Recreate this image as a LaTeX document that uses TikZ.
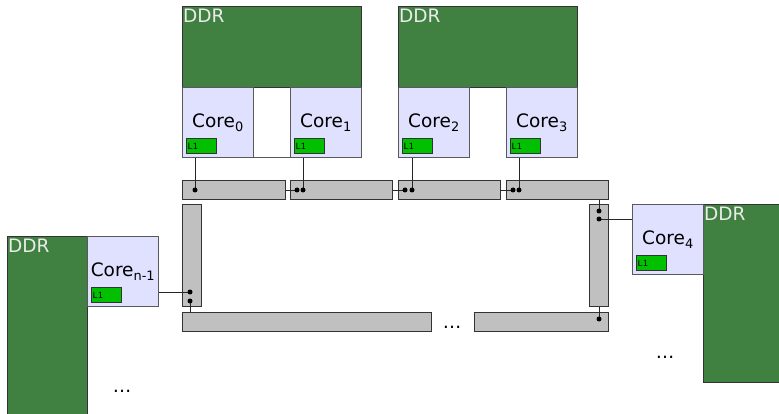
\documentclass[tikz,border=0pt]{standalone}
\usepackage{fontspec}
\setmainfont{DejaVu Sans}
\setmonofont{DejaVu Sans Mono}
\usepackage{tikz}
\usetikzlibrary{arrows,positioning}
\definecolor{ddrgreen}{RGB}{64,128,64}
\definecolor{corefill}{RGB}{224,224,255}
\definecolor{lonegreen}{RGB}{0,192,0}
\definecolor{bargray}{RGB}{192,192,192}
\tikzset{
  ddr/.style={shape=rectangle,draw=black!80,fill=ddrgreen,line width=1pt,inner sep=0pt,anchor=north west},
  ddrtext/.style={anchor=north west,inner xsep=1pt,inner ysep=3pt,text=white!92!black,font=\fontsize{18.5}{18.5}\selectfont},
  core/.style={shape=rectangle,draw=black!65,fill=corefill,line width=1pt,inner sep=0pt,anchor=north west,minimum width=71pt,minimum height=70pt,font=\fontsize{18.5}{18.5}\selectfont},
  lone/.style={shape=rectangle,draw=black!80,fill=lonegreen,line width=1pt,inner sep=0pt,anchor=north west,minimum width=30pt,minimum height=15pt},
  lonetext/.style={anchor=west,inner sep=2pt,font=\fontsize{8.5}{8.5}\ttfamily},
  bar/.style={shape=rectangle,draw=black!80,fill=bargray,line width=1pt,inner sep=0pt,anchor=north west},
  link/.style={line width=0.7pt,black!85},
  dot/.style={circle,fill=black,inner sep=0pt,minimum size=5pt}
}
\begin{document}
\begin{tikzpicture}[x=1pt,y=-1pt]
\useasboundingbox (0,0) rectangle (779,414);

\node[ddr,minimum width=179pt,minimum height=81pt] (ddr1) at (182,6){};
\node[ddr,minimum width=179pt,minimum height=81pt] (ddr2) at (398,6){};
\node[ddr,minimum width=80pt,minimum height=178pt] (ddr3) at (703,204){};
\node[ddr,minimum width=80pt,minimum height=190pt] (ddr4) at (7,236){};
\node[ddrtext] at (ddr1.north west){DDR};
\node[ddrtext] at (ddr2.north west){DDR};
\node[ddrtext] at (ddr3.north west){DDR};
\node[ddrtext] at (ddr4.north west){DDR};

\node[core] (c0) at (182,87){Core\textsubscript{0}};
\node[core] (c1) at (290,87){Core\textsubscript{1}};
\node[core] (c2) at (398,87){Core\textsubscript{2}};
\node[core] (c3) at (506,87){Core\textsubscript{3}};
\node[core] (c4) at (632,204){Core\textsubscript{4}};
\node[core] (cn) at (87,236){Core\textsubscript{n-1}};
\draw[line width=1pt,black!65] (c0.south east) -- (c1.south west);

\foreach \c in {c0,c1,c2,c3,c4,cn}{
  \node[lone] (\c l) at ([shift={(3.5,51)}]\c.north west){};
  \node[lonetext] at (\c l.west){L1};
}

\node[bar,minimum width=103pt,minimum height=19pt] (b1) at (182,180){};
\node[bar,minimum width=102pt,minimum height=19pt] (b2) at (290,180){};
\node[bar,minimum width=102pt,minimum height=19pt] (b3) at (398,180){};
\node[bar,minimum width=102pt,minimum height=19pt] (b4) at (506,180){};
\node[bar,minimum width=19pt,minimum height=102pt] (vl) at (182,204){};
\node[bar,minimum width=19pt,minimum height=102pt] (vr) at (589,204){};
\node[bar,minimum width=249pt,minimum height=19pt] (bl) at (182,312){};
\node[bar,minimum width=134pt,minimum height=19pt] (br) at (474,312){};

\coordinate (p0) at (195,190);
\coordinate (q1) at (297,190);
\coordinate (p1) at (303,190);
\coordinate (q2) at (405,190);
\coordinate (p2) at (412,190);
\coordinate (q3) at (513,190);
\coordinate (p3) at (519,190);
\coordinate (q4) at (599,211);
\coordinate (p4) at (599,219);
\coordinate (q5) at (599,319);
\coordinate (pn) at (190,292);
\coordinate (qn) at (190,301);

\draw[link] (c0.south -| p0) -- (p0);
\draw[link] (c1.south -| p1) -- (p1);
\draw[link] (c2.south -| p2) -- (p2);
\draw[link] (c3.south -| p3) -- (p3);
\draw[link] (b1.east |- q1) -- (q1);
\draw[link] (b2.east |- q2) -- (q2);
\draw[link] (b3.east |- q3) -- (q3);
\draw[link] (b4.south -| q4) -- (q4);
\draw[link] (p4) -- (c4.west |- p4);
\draw[link] (vr.south -| q5) -- (q5);
\draw[link] (cn.east |- pn) -- (pn);
\draw[link] (qn) -- (bl.north -| qn);
\foreach \p in {p0,q1,p1,q2,p2,q3,p3,q4,p4,q5,pn,qn}
  \node[dot] at (\p){};

\node[font=\fontsize{18.5}{18.5}\selectfont] (e1) at (452,327){\dots};
\node[font=\fontsize{18.5}{18.5}\selectfont] (e2) at (665,357){\dots};
\node[font=\fontsize{18.5}{18.5}\selectfont] (e3) at (122,391){\dots};

\end{tikzpicture}
\end{document}
